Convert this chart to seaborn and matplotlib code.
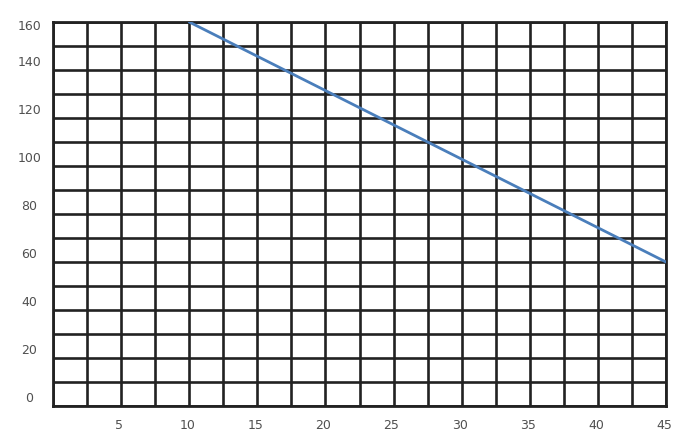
import matplotlib
matplotlib.use("Agg")
import matplotlib.pyplot as plt
import matplotlib.transforms as mtransforms
import seaborn as sns
import pandas as pd
import numpy as np

# data
line_x = [10, 45]
line_y = [160, 60]
x_ticks = [5, 10, 15, 20, 25, 30, 35, 40, 45]
y_ticks = [0, 20, 40, 60, 80, 100, 120, 140, 160]

sns.set_style("white")
plt.rcParams['font.family'] = ['DejaVu Sans']

fig = plt.figure(figsize=(6.76, 4.35), dpi=100)
ax = fig.add_axes([53/676, 28/435, 613/676, 384/435])

df = pd.DataFrame({'x': line_x, 'y': line_y})
sns.lineplot(data=df, x='x', y='y', ax=ax, color='#4a7ebb', linewidth=2, zorder=5)

ax.set_xlim(0, 45)
ax.set_ylim(0, 160)
ax.set_xticks(np.arange(0, 45.01, 2.5), minor=True)
ax.set_yticks(np.arange(0, 160.01, 10), minor=True)
ax.set_xticks(x_ticks)
ax.set_yticks(y_ticks)
ax.grid(True, which='both', color='#222222', linewidth=1.9)
ax.set_axisbelow(True)
for s in ax.spines.values():
    s.set_color('#222222')
    s.set_linewidth(2)

ax.set_xlabel('')
ax.set_ylabel('')
ax.tick_params(axis='both', which='both', length=0, labelsize=9, labelcolor='#505050')
ax.tick_params(axis='x', pad=9)
ax.tick_params(axis='y', pad=17)
for lab in ax.get_yticklabels():
    lab.set_horizontalalignment('center')
    off = -2 if lab.get_text() == '160' else 10
    lab.set_transform(lab.get_transform() + mtransforms.ScaledTranslation(0, off/100, fig.dpi_scale_trans))
for lab in ax.get_xticklabels():
    lab.set_transform(lab.get_transform() + mtransforms.ScaledTranslation(-2/100, 0, fig.dpi_scale_trans))

fig.savefig('out.png', dpi=100)
